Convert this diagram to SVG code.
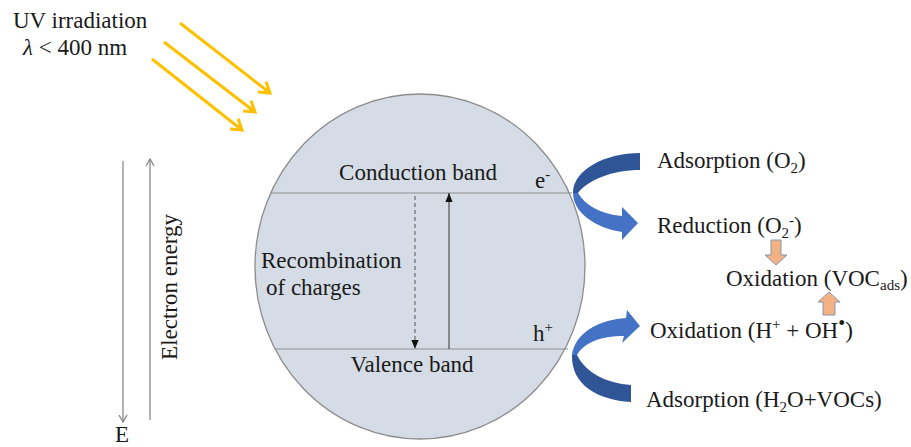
<svg xmlns="http://www.w3.org/2000/svg" width="911" height="447" viewBox="0 0 911 447">
<style>
text{font-family:"Liberation Serif","Times New Roman",serif;font-size:23px;fill:#1a1a1a}
.uv{stroke:#ffc000;stroke-width:3;fill:none}
.axis{stroke:#808080;stroke-width:1.2;fill:none}
.band{stroke:#8c8c8c;stroke-width:1.2}
.dark{fill:#2f5597}
.light{fill:#4472c4}
.orange{fill:#f4b183;stroke:#8497b0;stroke-width:1}
</style>
<defs>
<marker id="mUV" viewBox="0 0 16 16" refX="13" refY="8" markerWidth="16" markerHeight="16" markerUnits="userSpaceOnUse" orient="auto">
<path d="M3,1.5 L13,8 L3,14.5" fill="none" stroke="#ffc000" stroke-width="3"/>
</marker>
<marker id="mAx" viewBox="0 0 10 10" refX="9" refY="5" markerWidth="10" markerHeight="10" markerUnits="userSpaceOnUse" orient="auto">
<path d="M2,1 L9,5 L2,9" fill="none" stroke="#808080" stroke-width="1.2"/>
</marker>
<marker id="mBlk" viewBox="0 0 10 8" refX="10" refY="4" markerWidth="9" markerHeight="8" markerUnits="userSpaceOnUse" orient="auto">
<path d="M0,0 L10,4 L0,8 Z" fill="#111"/>
</marker>
</defs>

<g id="uv-label">
<text x="13" y="28">UV irradiation</text>
<text x="23" y="55"><tspan font-style="italic">λ</tspan> &lt; 400 nm</text>
</g>

<g id="particle">
<ellipse cx="420" cy="266.5" rx="165" ry="172.5" fill="#d6dce5" stroke="#8c8c8c" stroke-width="1.3"/>
<line class="band" x1="271" y1="193" x2="572" y2="193"/>
<line class="band" x1="275" y1="349" x2="568" y2="349"/>
<text x="418" y="180" text-anchor="middle">Conduction band</text>
<text x="412" y="372" text-anchor="middle">Valence band</text>
<text x="261" y="268">Recombination</text>
<text x="266" y="295">of charges</text>
<text x="535" y="188">e<tspan font-size="15" dy="-9">-</tspan></text>
<text x="533" y="341">h<tspan font-size="15" dy="-9">+</tspan></text>
</g>

<g id="energy-axis">
<text x="122" y="442" text-anchor="middle">E</text>
<text transform="translate(177,287) rotate(-90)" text-anchor="middle">Electron energy</text>
</g>

<g id="top-products">
<text x="657" y="168">Adsorption (O<tspan font-size="15" dy="5">2</tspan><tspan dy="-5">)</tspan></text>
<text x="657" y="233">Reduction (O<tspan font-size="15" dy="5">2</tspan><tspan font-size="15" dy="-13">-</tspan><tspan dy="8">)</tspan></text>
</g>
<g id="voc-oxidation">
<text x="726" y="286">Oxidation (VOC<tspan font-size="15" dy="4">ads</tspan><tspan dy="-4">)</tspan></text>
</g>
<g id="bottom-products">
<text x="650" y="338">Oxidation (H<tspan font-size="15" dy="-9">+</tspan><tspan dy="9"> + OH</tspan><tspan font-size="20" dy="-8">•</tspan><tspan dy="8">)</tspan></text>
<text x="646" y="407">Adsorption (H<tspan font-size="15" dy="5">2</tspan><tspan dy="-5">O+VOCs)</tspan></text>
</g>

<g id="connectors">
<line class="uv" x1="180" y1="23" x2="270" y2="93" marker-end="url(#mUV)"/>
<line class="uv" x1="164" y1="42" x2="255" y2="112" marker-end="url(#mUV)"/>
<line class="uv" x1="152" y1="59" x2="242" y2="130" marker-end="url(#mUV)"/>
<line class="axis" x1="123" y1="161" x2="123" y2="422" marker-end="url(#mAx)"/>
<line class="axis" x1="150" y1="420" x2="150" y2="159" marker-end="url(#mAx)"/>
<line x1="415" y1="196" x2="415" y2="349" stroke="#555" stroke-width="1" stroke-dasharray="4,3" marker-end="url(#mBlk)"/>
<line x1="449" y1="349" x2="449" y2="193" stroke="#333" stroke-width="1" marker-end="url(#mBlk)"/>
<path class="dark" d="M640,153 L640,170 C612,170 588,180 578,193 L573,193 C573,170 605,153 640,153 Z"/>
<path class="light" d="M573,193 C573,212 595,228 622,232 L622,240 L638,223 L622,207 L622,216 C600,214 585,205 578,193 Z"/>
<path class="light" d="M572,355 C575,333 598,320 626,318 L627,310 L640,326 L622,343 L624,336 C600,336 584,343 577,355 Z"/>
<path class="dark" d="M572,355 C571,385 598,400 631,402 L631,385 C606,383 586,373 577,355 Z"/>
<path class="orange" d="M771,240 L781,240 L781,255 L787,255 L776,265 L765,255 L771,255 Z"/>
<path class="orange" d="M823,315 L835,315 L835,302 L840,302 L829,292 L818,302 L823,302 Z"/>
</g>
</svg>
